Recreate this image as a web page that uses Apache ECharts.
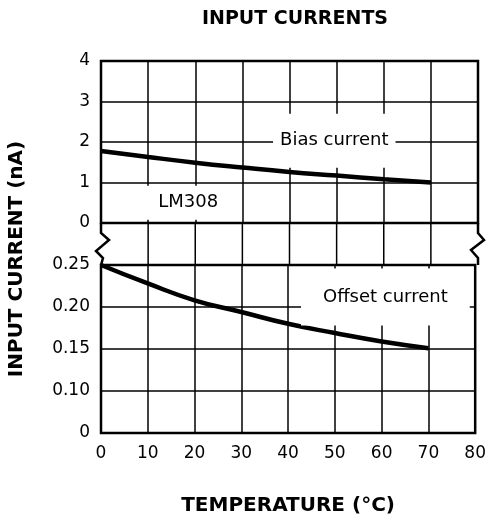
<!DOCTYPE html>
<html>
<head>
<meta charset="utf-8">
<title>Input Currents</title>
<script src="https://cdn.jsdelivr.net/npm/echarts@6.0.0/dist/echarts.min.js"></script>
<style>
  html, body { margin: 0; padding: 0; background: #fff; }
  #inputChart { width: 489px; height: 522px; }
</style>
</head>
<body>
<div id="inputChart"></div>
<script>
// 온도 (°C)
const temps = [0, 10, 20, 30, 40, 50, 60, 70];
// bias current (nA)
const biasCurrent = [1.78, 1.63, 1.49, 1.37, 1.26, 1.17, 1.08, 1.0];
// offset current (nA)
const offsetCurrent = [0.25, 0.228, 0.208, 0.194, 0.180, 0.169, 0.159, 0.151];

// tick labels
const xTicks = [0, 10, 20, 30, 40, 50, 60, 70, 80];
const biasTicks = [0, 1, 2, 3, 4];
const biasTickLabels = ['0', '1', '2', '3', '4'];
// lower panel is broken below 0.10, its bottom line reads "0"
const offsetTicks = [0.05, 0.10, 0.15, 0.20, 0.25];
const offsetTickLabels = ['0', '0.10', '0.15', '0.20', '0.25'];

(function () {
  const chartDom = document.getElementById('inputChart');
  const myChart = echarts.init(chartDom);

  const font = 'DejaVu Sans';
  const L = 101, R = 478, TOP = 61, MID1 = 223, MID2 = 265, BOT = 433;
  const W = 489;

  function tickLabel(ticks, labels) {
    return function (v) {
      const i = ticks.findIndex(t => Math.abs(t - v) < 1e-6);
      return i >= 0 ? labels[i] : '';
    };
  }

  const gridLine = { show: true, lineStyle: { color: '#000', width: 1.5 } };
  const noteLabel = {
    show: true,
    color: '#000',
    fontFamily: font,
    fontSize: 18,
    backgroundColor: '#fff'
  };

  // 패널 사이 구간: 세로 격자선 + 축 끊김 표시
  const gapLines = xTicks.slice(1, -1).map(function (t) {
    const px = L + (R - L) * (t - xTicks[0]) / (xTicks[xTicks.length - 1] - xTicks[0]);
    return {
      type: 'line',
      z: 100,
      shape: { x1: px, y1: MID1, x2: px, y2: MID2 },
      style: { stroke: '#000', lineWidth: 1.5 }
    };
  });

  const option = {
    animation: false,
    title: {
      text: 'INPUT CURRENTS',
      left: 290,
      top: 5,
      textAlign: 'center',
      textStyle: { fontFamily: font, fontSize: 19, fontWeight: 'bold', color: '#000' }
    },
    grid: [
      { left: L, right: W - R, top: TOP, height: MID1 - TOP, show: true, borderColor: '#000', borderWidth: 2.5 },
      { left: L, right: W - R, top: MID2, height: BOT - MID2, show: true, borderColor: '#000', borderWidth: 2.5 }
    ],
    xAxis: [
      {
        gridIndex: 0, type: 'value', min: 0, max: 80, interval: 10,
        axisLine: { show: false }, axisTick: { show: false }, axisLabel: { show: false },
        splitLine: gridLine
      },
      {
        gridIndex: 1, type: 'value', min: 0, max: 80, interval: 10,
        axisLine: { show: false }, axisTick: { show: false },
        axisLabel: {
          margin: 12, color: '#000', fontFamily: font, fontSize: 17,
          formatter: tickLabel(xTicks, xTicks.map(String))
        },
        splitLine: gridLine,
        name: 'TEMPERATURE (°C)',
        nameLocation: 'middle',
        nameGap: 63,
        nameTextStyle: { fontFamily: font, fontSize: 20, fontWeight: 'bold', color: '#000' }
      }
    ],
    yAxis: [
      {
        gridIndex: 0, type: 'value', min: 0, max: 4, interval: 1,
        axisLine: { show: false }, axisTick: { show: false },
        axisLabel: {
          margin: 11, color: '#000', fontFamily: font, fontSize: 17,
          formatter: tickLabel(biasTicks, biasTickLabels)
        },
        splitLine: gridLine
      },
      {
        gridIndex: 1, type: 'value', min: 0.05, max: 0.25, interval: 0.05,
        axisLine: { show: false }, axisTick: { show: false },
        axisLabel: {
          margin: 11, color: '#000', fontFamily: font, fontSize: 17,
          formatter: tickLabel(offsetTicks, offsetTickLabels)
        },
        splitLine: gridLine
      }
    ],
    series: [
      {
        name: 'Bias current',
        type: 'line',
        xAxisIndex: 0, yAxisIndex: 0,
        data: temps.map((t, i) => [t, biasCurrent[i]]),
        smooth: true,
        symbol: 'none',
        lineStyle: { color: '#000', width: 4.5 },
        markPoint: {
          symbol: 'circle', symbolSize: 0,
          itemStyle: { color: 'rgba(0,0,0,0)' },
          data: [
            { coord: [49.5, 2.03], label: Object.assign({}, noteLabel, { formatter: 'Bias current', padding: [18, 7] }) },
            { coord: [18.5, 0.5], label: Object.assign({}, noteLabel, { formatter: 'LM308', padding: [8, 17] }) }
          ]
        }
      },
      {
        name: 'Offset current',
        type: 'line',
        xAxisIndex: 1, yAxisIndex: 1,
        data: temps.map((t, i) => [t, offsetCurrent[i]]),
        smooth: true,
        symbol: 'none',
        lineStyle: { color: '#000', width: 4.5 },
        markPoint: {
          symbol: 'circle', symbolSize: 0,
          itemStyle: { color: 'rgba(0,0,0,0)' },
          data: [
            { coord: [60.8, 0.212], label: Object.assign({}, noteLabel, { formatter: 'Offset current', padding: [20, 22, 19, 22] }) }
          ]
        }
      }
    ],
    graphic: gapLines.concat([
      {
        type: 'polyline',
        z: 100,
        shape: { points: [[L, MID1], [L, 233], [L + 8, 240], [L - 5, 251], [L + 2, 258], [L, MID2]] },
        style: { stroke: '#000', lineWidth: 2.5, fill: null }
      },
      {
        type: 'polyline',
        z: 100,
        shape: { points: [[R, MID1], [R, 233], [R + 6, 240], [R - 7, 250], [R, 258], [R, MID2]] },
        style: { stroke: '#000', lineWidth: 2.5, fill: null }
      },
      {
        type: 'text',
        x: 17,
        y: 259,
        rotation: Math.PI / 2,
        style: {
          text: 'INPUT CURRENT (nA)',
          font: 'bold 20px "DejaVu Sans"',
          fill: '#000',
          textAlign: 'center',
          textVerticalAlign: 'middle'
        }
      }
    ])
  };

  myChart.setOption(option);

  window.addEventListener('resize', function () {
    myChart.resize();
  });
})();
</script>
</body>
</html>
